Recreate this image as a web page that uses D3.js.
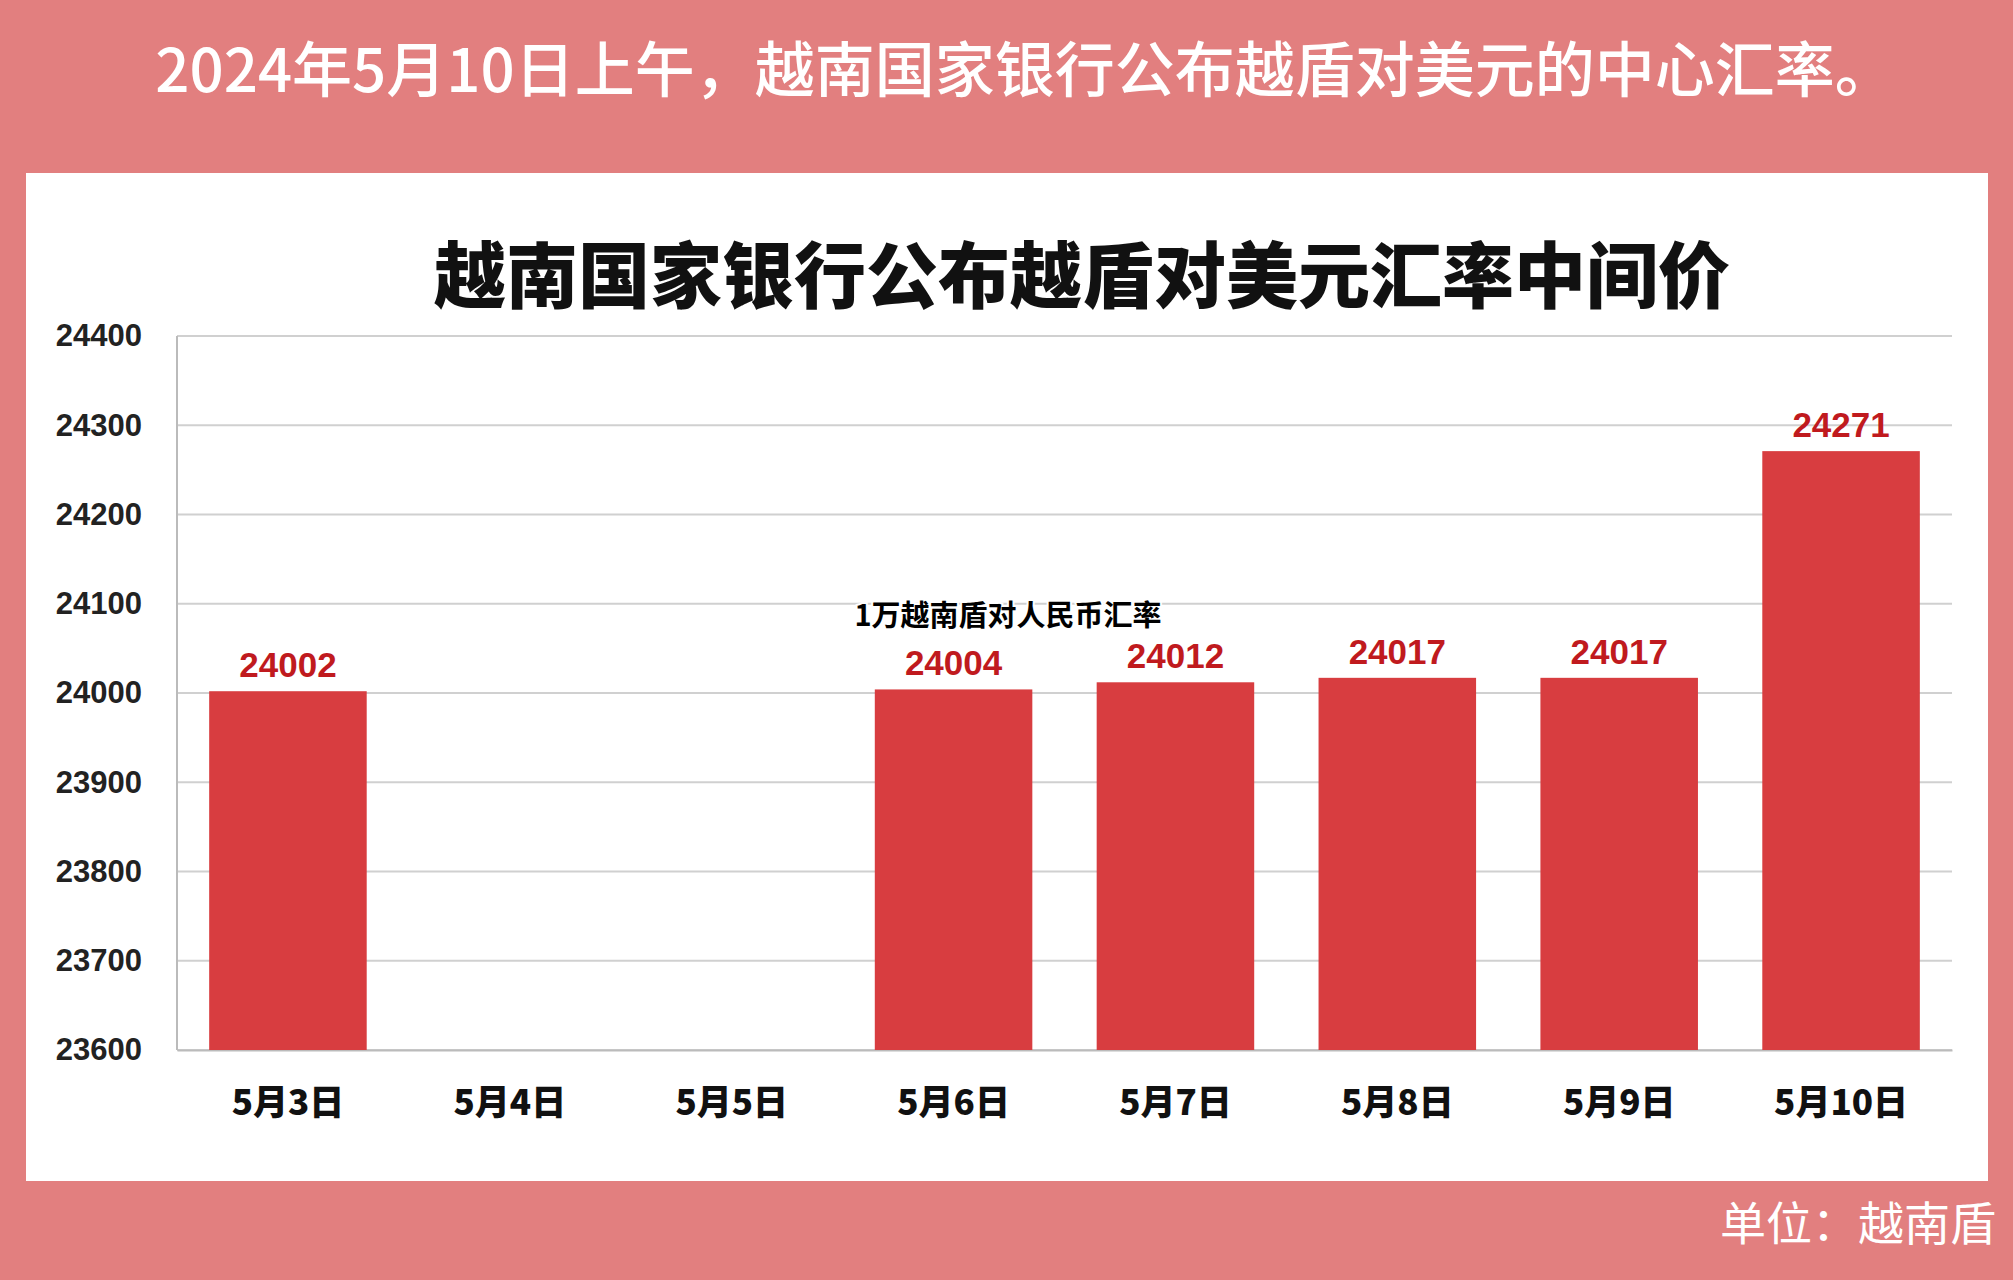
<!DOCTYPE html>
<html><head><meta charset="utf-8">
<script src="https://cdn.jsdelivr.net/npm/d3@7"></script>
<style>body{margin:0;background:#e27f7f;}svg{display:block}</style>
</head><body>
<svg id="c" width="2013" height="1280"></svg>
<script>
const categories = ["5月3日","5月4日","5月5日","5月6日","5月7日","5月8日","5月9日","5月10日"];
const values = [24002,null,null,24004,24012,24017,24017,24271];
const yTicks = [23600,23700,23800,23900,24000,24100,24200,24300,24400];
const headline = "2024年5月10日上午，越南国家银行公布越盾对美元的中心汇率。";
const chartTitle = "越南国家银行公布越盾对美元汇率中间价";
const overlay = "1万越南盾对人民币汇率";
const unit = "单位：越南盾";

const svg = d3.select("#c");
const W=2013,H=1280;
svg.append("rect").attr("width",W).attr("height",H).attr("fill","#e27f7f");
svg.append("text").attr("x",1025).attr("y",92).attr("text-anchor","middle")
  .attr("font-family","Noto Sans CJK SC").attr("font-weight",500).attr("font-size",60).attr("fill","#fff").text(headline);
svg.append("rect").attr("x",26).attr("y",173).attr("width",1962).attr("height",1008).attr("fill","#fff");
svg.append("text").attr("x",1082).attr("y",302).attr("text-anchor","middle")
  .attr("font-family","Noto Sans CJK SC").attr("font-weight",900).attr("font-size",72).attr("fill","#111").text(chartTitle);

const L=177,R=1952,T=336,B=1050;
const x=d3.scaleBand().domain(categories).range([L,R]).paddingInner(0.29).paddingOuter(0.145);
const y=d3.scaleLinear().domain([23600,24400]).range([B,T]);
const g=svg.append("g");
g.selectAll(".grid").data(yTicks).join("line").attr("x1",L).attr("x2",R)
  .attr("y1",d=>y(d)).attr("y2",d=>y(d)).attr("stroke","#d0d0d0").attr("stroke-width",2);
g.append("line").attr("x1",L).attr("x2",L).attr("y1",T).attr("y2",B).attr("stroke","#bbb").attr("stroke-width",2);
const yAxis=g.append("g").attr("transform",`translate(${L},0)`).call(d3.axisLeft(y).tickValues(yTicks).tickSize(0).tickPadding(35).tickFormat(d3.format("d")));
yAxis.select(".domain").remove();
yAxis.selectAll("text").attr("font-family","Liberation Sans").attr("font-weight","bold").attr("font-size",31).attr("fill","#222");
const xAxis=g.append("g").attr("transform",`translate(0,${B})`).call(d3.axisBottom(x).tickSize(0).tickPadding(40));
xAxis.select(".domain").attr("stroke","#bbb").attr("stroke-width",2);
xAxis.selectAll("text").attr("font-family","Noto Sans CJK SC").attr("font-weight",900).attr("font-size",35).attr("fill","#111");

const data=categories.map((c,i)=>({c,v:values[i]})).filter(d=>d.v!=null);
g.selectAll(".bar").data(data).join("rect").attr("x",d=>x(d.c)).attr("width",x.bandwidth())
  .attr("y",d=>y(d.v)).attr("height",d=>B-y(d.v)).attr("fill","#d83d40");
g.selectAll(".lbl").data(data).join("text").attr("x",d=>x(d.c)+x.bandwidth()/2).attr("y",d=>y(d.v)-14)
  .attr("text-anchor","middle").attr("font-family","Liberation Sans").attr("font-weight","bold")
  .attr("font-size",35).attr("fill","#c01a1e").text(d=>d.v);

svg.append("text").attr("x",1008).attr("y",626).attr("text-anchor","middle")
  .attr("font-family","Noto Sans CJK SC").attr("font-weight","bold").attr("font-size",29)
  .attr("fill","#000").attr("stroke","#fff").attr("stroke-width",4).attr("paint-order","stroke").text(overlay);
svg.append("text").attr("x",1996).attr("y",1240).attr("text-anchor","end")
  .attr("font-family","Noto Sans CJK SC").attr("font-size",46).attr("fill","#fff").text(unit);
</script>
</body></html>
